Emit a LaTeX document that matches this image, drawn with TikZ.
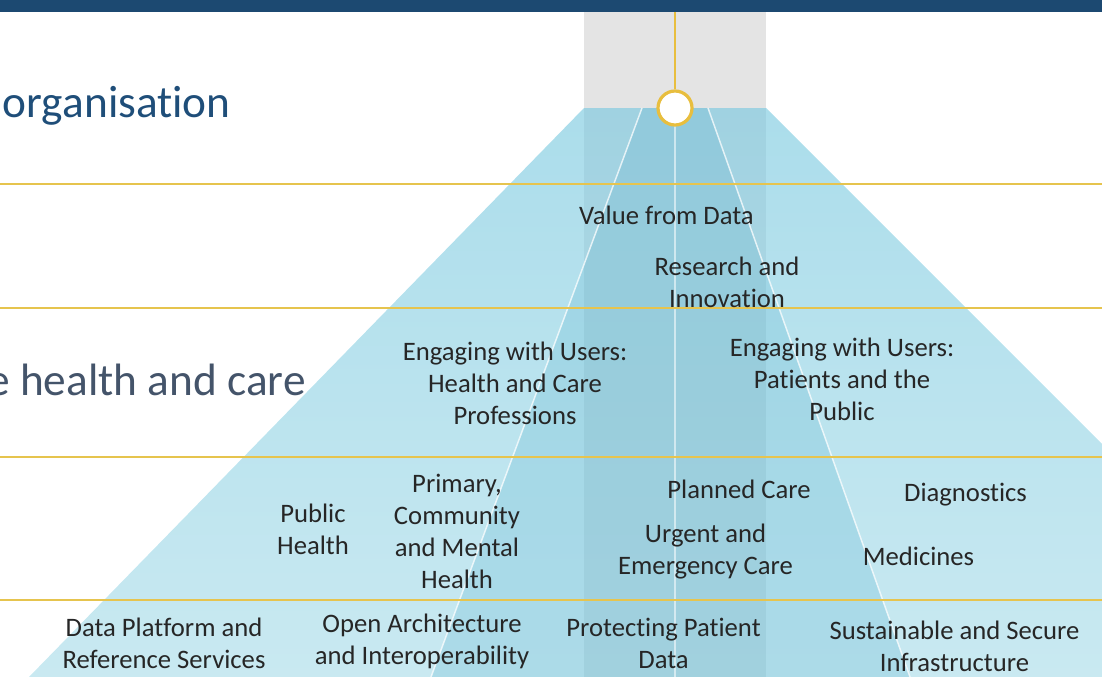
\documentclass[tikz,border=0pt]{standalone}
\usepackage{fontspec}
\setmainfont[Ligatures=NoCommon,RawFeature={-liga}]{Carlito}
\definecolor{topbar}{HTML}{1C4971}
\definecolor{greycol}{HTML}{E4E4E4}
\definecolor{outertop}{HTML}{ABDDEB}
\definecolor{outerbot}{HTML}{C9E9F1}
\definecolor{innerblue}{RGB}{130,199,220}
\definecolor{colshade}{RGB}{60,110,130}
\definecolor{gold}{HTML}{E8BE3E}
\definecolor{hline}{HTML}{E6C44E}
\definecolor{titleblue}{HTML}{1F4E79}
\definecolor{titlegrey}{HTML}{44546A}
\definecolor{labeltext}{HTML}{262626}
\tikzset{
  lbl/.style={font=\fontsize{20}{24}\selectfont, align=center, inner sep=0pt, text=labeltext},
  bigtitle/.style={font=\fontsize{34}{40}\selectfont, inner sep=0pt},
  tier/.style={draw=hline, line width=1pt},
  ray/.style={draw=white, draw opacity=0.75, line width=1.1pt},
}
\begin{document}
\begin{tikzpicture}[x=0.75pt,y=-0.75pt]
\useasboundingbox (0,0) rectangle (1102,677);
\begin{scope}
\clip (0,0) rectangle (1102,677);
% outer light-blue trapezoid
\shade[top color=outertop, bottom color=outerbot] (584,108) -- (766,108) -- (1335,677) -- (29,677) -- cycle;
% inner darker trapezoid
\fill[innerblue, fill opacity=0.4] (642,108) -- (708,108) -- (910,677) -- (431,677) -- cycle;
% central column overlay
\fill[colshade, fill opacity=0.09] (584,108) rectangle (766,677);
% grey column top
\fill[greycol] (584,12) rectangle (766,108);
% white rays
\draw[ray] (642,108) -- (431,677);
\draw[ray] (708,108) -- (910,677);
\draw[draw=white, draw opacity=0.55, line width=1pt] (675,108) -- (675,677);
% tier lines
\draw[tier] (0,184) -- (1102,184);
\draw[tier] (0,308) -- (1102,308);
\draw[tier] (0,457) -- (1102,457);
\draw[tier] (0,600) -- (1102,600);
% top bar
\fill[topbar] (0,0) rectangle (1102,12);
% gold stem and ring
\coordinate (stemtop) at (675,12);
\node[circle, draw=gold, fill=white, line width=2.4pt, minimum size=25.5pt, inner sep=0pt] (ring) at (675,108) {};
\draw[gold, line width=1.6pt] (stemtop) -- (ring.north);
% titles
\node[bigtitle, text=titleblue, anchor=base east] (torg) at (231,118) {organisation};
\node[bigtitle, text=titlegrey, anchor=base east] (thealth) at (306,395) {e health and care};
% labels
\node[lbl] (vfd) at (666.5,215) {Value from Data};
\node[lbl] (rai) at (727,282.5) {Research and\\Innovation};
\node[lbl] (ehc) at (515,383.5) {Engaging with Users:\\Health and Care\\Professions};
\node[lbl] (epp) at (842,379.5) {Engaging with Users:\\Patients and the\\Public};
\node[lbl] (ph) at (313,529) {Public\\Health};
\node[lbl] (pcm) at (457,531) {Primary,\\Community\\and Mental\\Health};
\node[lbl] (pc) at (739,489) {Planned Care};
\node[lbl] (uec) at (705.5,552) {Urgent and\\Emergency Care};
\node[lbl] (dia) at (965.5,495) {Diagnostics};
\node[lbl] (med) at (918.5,556) {Medicines};
\node[lbl] (dprs) at (164,643) {Data Platform and\\Reference Services};
\node[lbl] (oai) at (422,641) {Open Architecture\\and Interoperability};
\node[lbl] (ppd) at (663.5,643) {Protecting Patient\\Data};
\node[lbl] (ssi) at (954.5,646) {Sustainable and Secure\\Infrastructure};
\end{scope}
\end{tikzpicture}
\end{document}
